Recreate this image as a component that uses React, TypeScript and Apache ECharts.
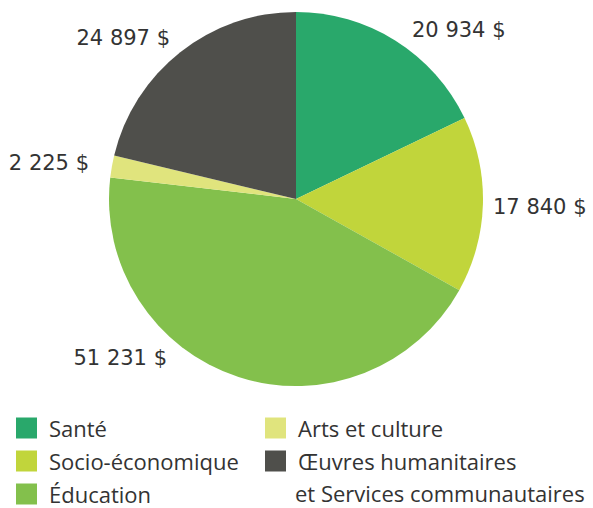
import React, { useEffect, useRef } from "react";
import * as echarts from "echarts";

const categories = [
  "Santé",
  "Socio-économique",
  "Éducation",
  "Arts et culture",
  "Œuvres humanitaires",
];
const values = [20934, 17840, 51231, 2225, 24897];
const valueLabels = ["20 934 $", "17 840 $", "51 231 $", "2 225 $", "24 897 $"];
const colors = ["#29a86b", "#c1d53b", "#83c04c", "#e0e47d", "#4f4f4b"];
const legendCol1 = ["Santé", "Socio-économique", "Éducation"];
const legendCol2 = ["Arts et culture", "Œuvres humanitaires"];
const legendExtraLine = "et Services communautaires";

// label anchor positions [x, y, align]
const labelPos: [number, number, string][] = [
  [412, 30, "left"],
  [493, 207, "left"],
  [167, 358, "right"],
  [89, 163, "right"],
  [170, 38, "right"],
];

export default function App() {
  const ref = useRef<HTMLDivElement>(null);
  useEffect(() => {
    if (!ref.current) return;
    const chart = echarts.init(ref.current, undefined, { renderer: "svg" });
    const legendText = {
      fontFamily: "Open Sans",
      fontSize: 22,
      color: "#333",
      lineHeight: 21,
      padding: [1, 0, 0, 7],
    };
    const legendBase = {
      orient: "vertical",
      top: 417,
      height: 100,
      padding: 0,
      itemWidth: 21,
      itemHeight: 21,
      itemGap: 11,
      icon: "rect",
      textStyle: legendText,
      selectedMode: false,
    };
    chart.setOption({
      animation: false,
      backgroundColor: "#ffffff",
      legend: [
        { ...legendBase, data: legendCol1, left: 16 },
        { ...legendBase, data: legendCol2, left: 265 },
      ],
      graphic: [
        {
          type: "text",
          left: 295,
          top: 482,
          style: {
            text: legendExtraLine,
            font: "22px 'Open Sans'",
            fill: "#333",
          },
        },
      ],
      series: [
        {
          type: "pie",
          center: [296, 199],
          radius: 187,
          startAngle: 90,
          clockwise: true,
          data: categories.map((c, i) => ({
            name: c,
            value: values[i],
            itemStyle: { color: colors[i] },
          })),
          label: {
            show: true,
            position: "outside",
            overflow: "none",
            formatter: (p: any) => valueLabels[p.dataIndex],
            fontFamily: "DejaVu Sans",
            fontSize: 21,
            color: "#333",
          },
          labelLine: { show: false },
          labelLayout: (p: any) => {
            const lp = labelPos[p.dataIndex];
            return { x: lp[0], y: lp[1], align: lp[2], verticalAlign: "middle" };
          },
          emphasis: { disabled: true },
        },
      ],
    });
    return () => chart.dispose();
  }, []);
  return (
    <div
      ref={ref}
      style={{ position: "fixed", left: 0, top: 0, width: 593, height: 508 }}
    />
  );
}
